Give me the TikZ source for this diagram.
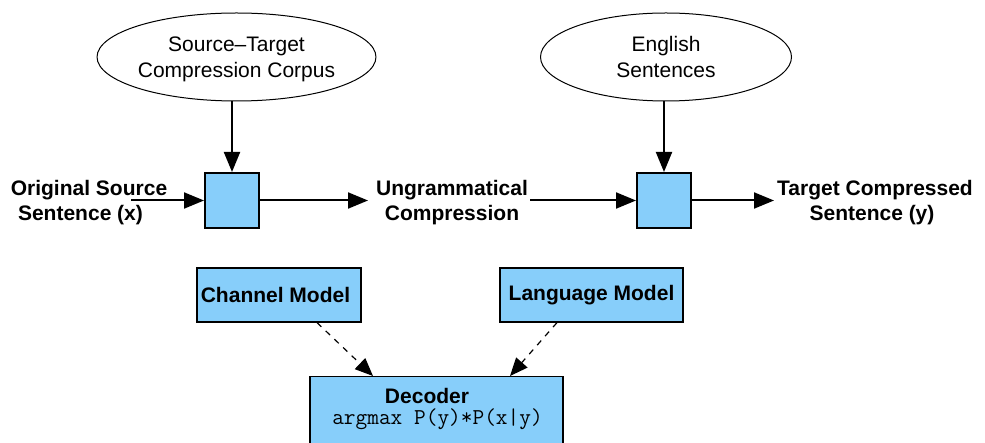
\documentclass[tikz,border=0pt]{standalone}
\usepackage{fontspec}
\setmainfont{Liberation Sans}
\usetikzlibrary{arrows.meta,shapes.geometric}
\definecolor{boxblue}{HTML}{87CEFA}
\tikzset{
  every node/.style={font=\fontsize{21}{26}\selectfont, inner sep=0pt},
  source/.style={ellipse, draw, line width=1pt, minimum width=251pt, minimum height=88pt, align=center, text depth=0pt, font=\fontsize{21}{25.5}\selectfont},
  unit/.style={rectangle, draw, line width=2pt, fill=boxblue, minimum width=54pt, minimum height=55pt},
  model/.style={rectangle, draw, line width=1.2pt, fill=boxblue, minimum height=54pt, font=\fontsize{21}{26}\selectfont\bfseries},
  lbl/.style={align=center, anchor=north, text height=15pt, font=\fontsize{21}{25}\selectfont\bfseries},
  flow/.style={line width=2pt, -{Triangle[length=20pt,width=16pt]}},
  feed/.style={line width=1.2pt, dash pattern=on 6pt off 6pt, -{Triangle[length=18pt,width=15pt]}},
}
\begin{document}
\begin{tikzpicture}[x=1pt, y=-1pt]
\clip (0,0) rectangle (985,443);
\fill[white] (0,0) rectangle (985,443);

% corpora
\node[source] (corpus) at (236.5,57) {Source--Target\\Compression Corpus};
\node[source] (english) at (666,57) {English\\Sentences};

% noisy-channel units
\node[unit] (u1) at (232,200.5) {};
\node[unit] (u2) at (664,200.5) {};

% sentence labels
\node[lbl] (src) at (89,205) {Original Source\\\hspace*{-17pt}Sentence (x)};
\node[lbl] (mid) at (452,205) {Ungrammatical\\Compression};
\node[lbl] (tgt) at (875,205) {Target Compressed\\\hspace*{-6pt}Sentence (y)};

\coordinate (inA) at (131,200.5);
\coordinate (outA) at (368,200.5);
\coordinate (inB) at (530,200.5);
\coordinate (outB) at (774,200.5);

\draw[flow] (corpus.south -| u1) -- (u1.north);
\draw[flow] (english.south -| u2) -- (u2.north);
\draw[flow] (inA) -- (u1.west);
\draw[flow] (u1.east) -- (outA);
\draw[flow] (inB) -- (u2.west);
\draw[flow] (u2.east) -- (outB);

% models and decoder
\node[model, minimum width=164pt] (chan) at (279,295) {\hspace*{-7pt}Channel Model};
\node[model, minimum width=183pt] (lang) at (591.5,295) {Language Model};
\node[rectangle, draw, line width=1.2pt, fill=boxblue, minimum width=253pt, minimum height=110pt, anchor=north] (dec) at (436.5,376) {};
\node[font=\fontsize{21}{26}\selectfont\bfseries] (dectitle) at (427,396) {Decoder};
\node[font=\fontsize{22.7}{26}\selectfont\ttfamily] (decrule) at (437.5,419) {argmax P(y)*P(x|y)};

\draw[feed] (chan.south -| 317,0) -- (dec.north -| 373,0);
\draw[feed] (lang.south -| 557,0) -- (dec.north -| 510,0);
\end{tikzpicture}
\end{document}
